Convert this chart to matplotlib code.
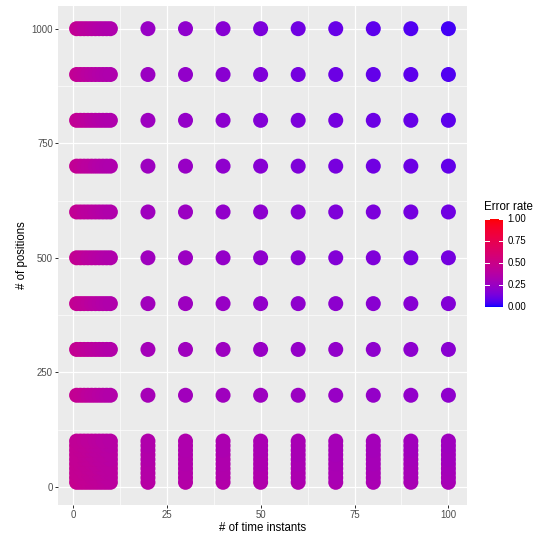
import numpy as np
import matplotlib
matplotlib.use("Agg")
import matplotlib.pyplot as plt
from matplotlib.colors import ListedColormap, Normalize

plt.rcParams["font.family"] = ["Liberation Sans", "DejaVu Sans"]

# grid of runs: number of time instants x number of positions
times = [1, 2, 3, 4, 5, 6, 7, 8, 9, 10, 20, 30, 40, 50, 60, 70, 80, 90, 100]
positions = [10, 20, 30, 40, 50, 60, 70, 80, 90, 100,
             200, 300, 400, 500, 600, 700, 800, 900, 1000]

# error rate, one row per entry of `positions`, one column per entry of `times`
error_rate = [
    [.47, .46, .46, .45, .44, .44, .43, .42, .42, .41, .38, .37, .36, .35, .34, .33, .32, .31, .31],
    [.47, .46, .45, .45, .44, .43, .43, .42, .41, .41, .38, .37, .36, .35, .33, .32, .32, .31, .30],
    [.46, .46, .45, .44, .44, .43, .42, .42, .41, .40, .37, .36, .35, .34, .33, .32, .31, .30, .30],
    [.46, .45, .45, .44, .43, .43, .42, .41, .41, .40, .37, .36, .35, .34, .33, .32, .31, .30, .29],
    [.46, .45, .44, .44, .43, .42, .42, .41, .40, .40, .37, .35, .34, .33, .32, .31, .30, .30, .29],
    [.45, .45, .44, .43, .43, .42, .41, .41, .40, .39, .36, .35, .34, .33, .32, .31, .30, .29, .28],
    [.45, .45, .44, .43, .42, .42, .41, .40, .40, .39, .36, .35, .34, .33, .31, .30, .30, .29, .28],
    [.45, .44, .44, .43, .42, .41, .41, .40, .39, .39, .36, .34, .33, .32, .31, .30, .29, .28, .28],
    [.45, .44, .43, .43, .42, .41, .40, .40, .39, .38, .35, .34, .33, .32, .31, .30, .29, .28, .27],
    [.44, .44, .43, .42, .42, .41, .40, .39, .39, .38, .35, .34, .33, .32, .31, .30, .29, .28, .27],
    [.46, .45, .44, .42, .41, .40, .39, .38, .37, .36, .30, .28, .27, .26, .25, .24, .23, .22, .21],
    [.46, .45, .43, .42, .41, .40, .39, .38, .37, .36, .29, .27, .26, .24, .23, .22, .21, .20, .19],
    [.46, .44, .43, .42, .40, .39, .38, .37, .36, .35, .28, .26, .24, .22, .21, .20, .19, .18, .17],
    [.46, .44, .43, .41, .40, .39, .38, .37, .36, .35, .27, .25, .23, .21, .19, .17, .16, .14, .13],
    [.45, .44, .42, .41, .40, .39, .38, .37, .36, .35, .27, .25, .22, .20, .18, .16, .15, .13, .12],
    [.45, .44, .42, .41, .40, .38, .37, .36, .35, .34, .26, .24, .21, .18, .16, .14, .12, .11, .09],
    [.45, .43, .42, .41, .39, .38, .37, .36, .35, .34, .26, .23, .20, .17, .15, .13, .11, .10, .08],
    [.45, .43, .42, .40, .39, .38, .37, .36, .35, .34, .25, .22, .19, .16, .13, .11, .09, .08, .06],
    [.45, .43, .41, .40, .39, .38, .37, .36, .35, .34, .24, .21, .18, .15, .12, .10, .08, .06, .04],
]


def lab_ramp(c0, c1, n=256):
    """blue->red ramp interpolated in CIELAB, like scale_colour_gradient"""
    def srgb_to_lab(c):
        c = np.asarray(c, float)
        lin = np.where(c <= 0.04045, c / 12.92, ((c + 0.055) / 1.055) ** 2.4)
        m = np.array([[0.4124, 0.3576, 0.1805],
                      [0.2126, 0.7152, 0.0722],
                      [0.0193, 0.1192, 0.9505]])
        xyz = m @ lin / np.array([0.95047, 1.0, 1.08883])
        f = np.where(xyz > 0.008856, np.cbrt(xyz), 7.787 * xyz + 16 / 116)
        return np.array([116 * f[1] - 16, 500 * (f[0] - f[1]), 200 * (f[1] - f[2])])

    def lab_to_srgb(lab):
        L, a, b = lab
        fy = (L + 16) / 116
        fx = fy + a / 500
        fz = fy - b / 200
        f = np.array([fx, fy, fz])
        xyz = np.where(f ** 3 > 0.008856, f ** 3, (f - 16 / 116) / 7.787)
        xyz *= np.array([0.95047, 1.0, 1.08883])
        m = np.array([[3.2406, -1.5372, -0.4986],
                      [-0.9689, 1.8758, 0.0415],
                      [0.0557, -0.2040, 1.0570]])
        lin = np.clip(m @ xyz, 0, 1)
        return np.where(lin <= 0.0031308, 12.92 * lin, 1.055 * lin ** (1 / 2.4) - 0.055)

    l0, l1 = srgb_to_lab(c0), srgb_to_lab(c1)
    cols = [lab_to_srgb(l0 + (l1 - l0) * t) for t in np.linspace(0, 1, n)]
    return ListedColormap(np.clip(cols, 0, 1))


cmap = lab_ramp((0, 0, 1), (1, 0, 0))
norm = Normalize(0, 1)

W, H = 541, 535
fig = plt.figure(figsize=(W / 72, H / 72), dpi=72)
ax = fig.add_axes([58 / W, 1 - 505 / H, 409 / W, 499 / H])
ax.set_facecolor("#EBEBEB")

px, py, pc = [], [], []
for i, p in enumerate(positions):
    for j, t in enumerate(times):
        px.append(t)
        py.append(p)
        pc.append(error_rate[i][j])

ax.scatter(px, py, c=pc, cmap=cmap, norm=norm, s=225, linewidths=0, zorder=3)

ax.set_xlim(-3.95, 104.95)
ax.set_ylim(-39.5, 1049.5)
ax.set_xticks([0, 25, 50, 75, 100])
ax.set_yticks([0, 250, 500, 750, 1000])
ax.set_xticks([12.5, 37.5, 62.5, 87.5], minor=True)
ax.set_yticks([125, 375, 625, 875], minor=True)
ax.grid(which="major", color="white", lw=1.2)
ax.grid(which="minor", color="white", lw=0.6)
ax.set_axisbelow(True)
for s in ax.spines.values():
    s.set_visible(False)
ax.tick_params(which="major", length=2.75, width=1.0, color="#333333",
               labelsize=9.6, labelcolor="#4D4D4D", pad=2.2)
ax.tick_params(which="minor", length=0)
ax.set_xlabel("# of time instants", fontsize=11.5, labelpad=2)
ax.set_ylabel("# of positions", fontsize=11.5, labelpad=4)

# colour bar legend
cax = fig.add_axes([485 / W, 1 - 307 / H, 18 / W, 88 / H])
grad = np.linspace(0, 1, 256).reshape(-1, 1)
cax.imshow(grad, aspect="auto", cmap=cmap, norm=norm, origin="lower",
           extent=[0, 1, 0, 1])
for v in [0, 0.25, 0.5, 0.75, 1.0]:
    cax.plot([0, 0.2], [v, v], color="white", lw=1)
    cax.plot([0.8, 1], [v, v], color="white", lw=1)
    cax.text(1.25, v, f"{v:.2f}", fontsize=9.6, va="center", ha="left",
             transform=cax.transAxes)
cax.set_xlim(0, 1)
cax.set_ylim(0, 1)
cax.axis("off")
fig.text(484 / W, 1 - 207 / H, "Error rate", fontsize=11.5, va="center",
         ha="left")

fig.savefig("out.png", dpi=72)
